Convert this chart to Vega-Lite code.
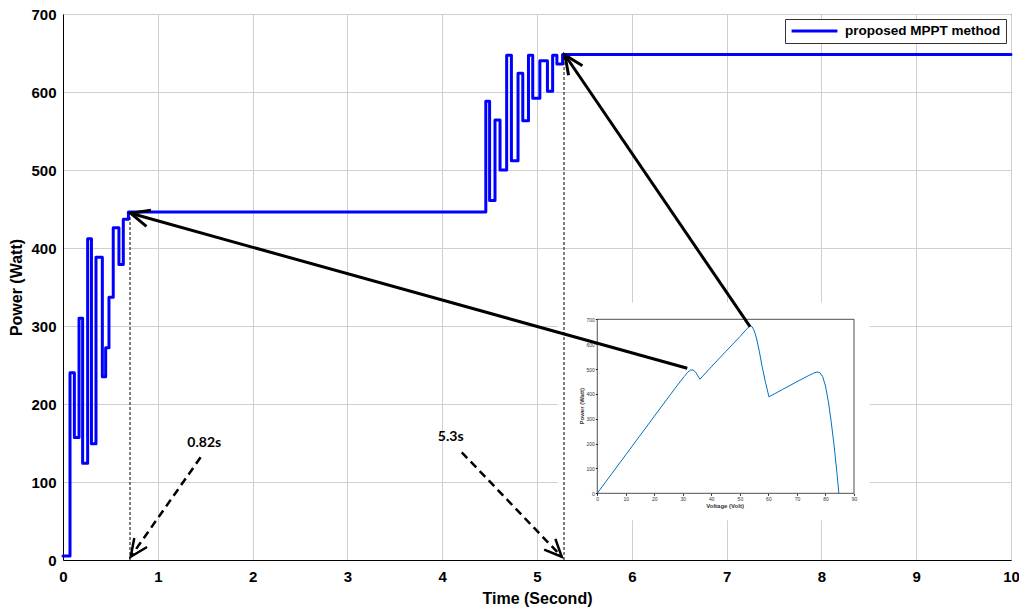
{
  "$schema": "https://vega.github.io/schema/vega-lite/v6.json",
  "width": 948,
  "height": 546,
  "autosize": {"type": "none"},
  "padding": {"left": 63, "top": 14, "right": 8, "bottom": 55},
  "background": "white",
  "config": {"view": {"stroke": "black", "strokeWidth": 1}, "font": "Liberation Sans"},
  "resolve": {"scale": {"x": "independent", "y": "independent", "color": "independent"}},
  "layer": [
    {
      "layer": [
        {
          "data": {"values": [{"t0": 5.22, "t1": 8.51, "p0": 51, "p1": 330}]},
          "mark": {"type": "rect", "fill": "white", "stroke": null},
          "encoding": {
            "x": {"field": "t0", "type": "quantitative", "scale": {"domain": [0, 10], "nice": false, "zero": false},
              "axis": {"orient": "bottom", "values": [0,1,2,3,4,5,6,7,8,9,10], "format": "d", "grid": true, "gridColor": "#cfcfcf", "gridWidth": 1, "domainColor": "black", "ticks": false, "labelFontSize": 15, "labelFontWeight": "bold", "labelColor": "black", "labelPadding": 9, "labelFlush": false, "title": "Time (Second)", "titleFontSize": 16, "titleFontWeight": "bold", "titleColor": "black", "titlePadding": 6}},
            "x2": {"field": "t1"},
            "y": {"field": "p0", "type": "quantitative", "scale": {"domain": [0, 700], "nice": false, "zero": false},
              "axis": {"orient": "left", "values": [0,100,200,300,400,500,600,700], "format": "d", "grid": true, "gridColor": "#cfcfcf", "gridWidth": 1, "domainColor": "black", "ticks": false, "labelFontSize": 15, "labelFontWeight": "bold", "labelColor": "black", "labelPadding": 7, "title": "Power (Watt)", "titleFontSize": 16, "titleFontWeight": "bold", "titleColor": "black", "titlePadding": 6}},
            "y2": {"field": "p1"}
          }
        },
        {
          "data": {"values": [
            {"t": 0, "P": 5, "series": "proposed MPPT method"},
            {"t": 0.074, "P": 240, "series": "proposed MPPT method"},
            {"t": 0.12, "P": 157, "series": "proposed MPPT method"},
            {"t": 0.169, "P": 310, "series": "proposed MPPT method"},
            {"t": 0.207, "P": 124, "series": "proposed MPPT method"},
            {"t": 0.26, "P": 412, "series": "proposed MPPT method"},
            {"t": 0.30, "P": 149, "series": "proposed MPPT method"},
            {"t": 0.348, "P": 388, "series": "proposed MPPT method"},
            {"t": 0.415, "P": 235, "series": "proposed MPPT method"},
            {"t": 0.45, "P": 272, "series": "proposed MPPT method"},
            {"t": 0.485, "P": 337, "series": "proposed MPPT method"},
            {"t": 0.53, "P": 426, "series": "proposed MPPT method"},
            {"t": 0.59, "P": 379, "series": "proposed MPPT method"},
            {"t": 0.636, "P": 437, "series": "proposed MPPT method"},
            {"t": 0.69, "P": 446, "series": "proposed MPPT method"},
            {"t": 4.46, "P": 588, "series": "proposed MPPT method"},
            {"t": 4.50, "P": 461, "series": "proposed MPPT method"},
            {"t": 4.557, "P": 564, "series": "proposed MPPT method"},
            {"t": 4.61, "P": 500, "series": "proposed MPPT method"},
            {"t": 4.68, "P": 647, "series": "proposed MPPT method"},
            {"t": 4.73, "P": 512, "series": "proposed MPPT method"},
            {"t": 4.80, "P": 624, "series": "proposed MPPT method"},
            {"t": 4.85, "P": 563, "series": "proposed MPPT method"},
            {"t": 4.91, "P": 647, "series": "proposed MPPT method"},
            {"t": 4.955, "P": 592, "series": "proposed MPPT method"},
            {"t": 5.03, "P": 640, "series": "proposed MPPT method"},
            {"t": 5.11, "P": 601, "series": "proposed MPPT method"},
            {"t": 5.165, "P": 647, "series": "proposed MPPT method"},
            {"t": 5.21, "P": 636, "series": "proposed MPPT method"},
            {"t": 5.27, "P": 648, "series": "proposed MPPT method"},
            {"t": 10, "P": 648, "series": "proposed MPPT method"}
          ]},
          "mark": {"type": "line", "interpolate": "step-after", "strokeWidth": 3, "strokeJoin": "round", "strokeCap": "round"},
          "encoding": {
            "x": {"field": "t", "type": "quantitative"},
            "y": {"field": "P", "type": "quantitative"},
            "color": {"field": "series", "type": "nominal", "scale": {"range": ["#0000ff"]},
              "legend": {"orient": "top-right", "offset": 5, "title": null, "symbolType": "stroke", "symbolSize": 2100, "symbolStrokeWidth": 3, "clipHeight": 14, "labelFontSize": 13.5, "labelFontWeight": "bold", "labelFont": "Liberation Sans", "labelColor": "black", "fillColor": "white", "strokeColor": "#333333", "padding": 5, "labelOffset": 6}}
          }
        }
      ]
    },
    {
      "layer": [
        {
          "data": {"values": [{"v0": 0, "v1": 90, "q0": 0, "q1": 700}]},
          "mark": {"type": "rect", "fill": "white", "stroke": "#222222", "strokeWidth": 0.8},
          "encoding": {
            "x": {"field": "v0", "type": "quantitative", "scale": {"domain": [-187.3, 145.05], "nice": false, "zero": false},
              "axis": {"orient": "bottom", "offset": -66.7, "zindex": 1, "values": [0,10,20,30,40,50,60,70,80,90], "grid": false, "domain": false, "ticks": true, "tickSize": 2, "tickColor": "#222222", "labelFontSize": 5, "labelColor": "#333333", "labelPadding": 1, "labelFlush": false, "title": null}},
            "x2": {"field": "v1"},
            "y": {"field": "q0", "type": "quantitative", "scale": {"domain": [-268.3, 1928.2], "nice": false, "zero": false},
              "axis": {"orient": "left", "offset": -534.3, "zindex": 1, "values": [0,100,200,300,400,500,600,700], "grid": false, "domain": false, "ticks": true, "tickSize": 2, "tickColor": "#222222", "labelFontSize": 5, "labelColor": "#333333", "labelPadding": 1, "title": null}},
            "y2": {"field": "q1"}
          }
        },
        {
          "data": {"values": [
            {"V": 0, "P": 0}, {"V": 10, "P": 155}, {"V": 20, "P": 310}, {"V": 27, "P": 418},
            {"V": 29, "P": 448}, {"V": 30.5, "P": 470}, {"V": 31.7, "P": 487}, {"V": 32.7, "P": 496},
            {"V": 33.6, "P": 496}, {"V": 34.5, "P": 487}, {"V": 35.3, "P": 472}, {"V": 36, "P": 459},
            {"V": 40, "P": 509}, {"V": 45, "P": 570}, {"V": 50, "P": 630}, {"V": 52, "P": 656},
            {"V": 52.9, "P": 667}, {"V": 53.6, "P": 672}, {"V": 54.3, "P": 670}, {"V": 55, "P": 655},
            {"V": 55.8, "P": 625}, {"V": 56.8, "P": 572}, {"V": 57.8, "P": 510}, {"V": 59, "P": 445},
            {"V": 60.2, "P": 388}, {"V": 65, "P": 418}, {"V": 70, "P": 449}, {"V": 74, "P": 473},
            {"V": 75.8, "P": 483}, {"V": 77, "P": 488}, {"V": 78, "P": 486}, {"V": 79, "P": 470},
            {"V": 80, "P": 432}, {"V": 81, "P": 370}, {"V": 82, "P": 290}, {"V": 83, "P": 195},
            {"V": 84, "P": 85}, {"V": 84.7, "P": 0}
          ]},
          "mark": {"type": "line", "color": "#0072BD", "strokeWidth": 1},
          "encoding": {
            "x": {"field": "V", "type": "quantitative"},
            "y": {"field": "P", "type": "quantitative"}
          }
        },
        {
          "data": {"values": [{"V": 44.8, "P": -50, "label": "Voltage (Volt)"}]},
          "mark": {"type": "text", "fontSize": 6, "fontWeight": "bold", "color": "#333333", "font": "Liberation Sans"},
          "encoding": {
            "x": {"field": "V", "type": "quantitative"},
            "y": {"field": "P", "type": "quantitative"},
            "text": {"field": "label"}
          }
        },
        {
          "data": {"values": [{"V": -5.5, "P": 350, "label": "Power (Watt)"}]},
          "mark": {"type": "text", "fontSize": 6, "fontWeight": "bold", "color": "#333333", "angle": 270, "font": "Liberation Sans"},
          "encoding": {
            "x": {"field": "V", "type": "quantitative"},
            "y": {"field": "P", "type": "quantitative"},
            "text": {"field": "label"}
          }
        }
      ]
    },
    {
      "layer": [
        {
          "data": {"values": [{"t": 0.707, "p0": 0, "p1": 446}, {"t": 5.285, "p0": 0, "p1": 648}]},
          "mark": {"type": "rule", "color": "black", "strokeWidth": 1, "strokeDash": [3, 2]},
          "encoding": {
            "x": {"field": "t", "type": "quantitative", "scale": {"domain": [0, 10], "nice": false, "zero": false}, "axis": null},
            "y": {"field": "p0", "type": "quantitative", "scale": {"domain": [0, 700], "nice": false, "zero": false}, "axis": null},
            "y2": {"field": "p1"}
          }
        },
        {
          "data": {"values": [{"t0": 6.585, "p0": 245.8, "t1": 0.714, "p1": 444.5}, {"t0": 7.247, "p0": 299.1, "t1": 5.295, "p1": 647.4}]},
          "mark": {"type": "rule", "color": "black", "strokeWidth": 3},
          "encoding": {
            "x": {"field": "t0", "type": "quantitative"},
            "y": {"field": "p0", "type": "quantitative"},
            "x2": {"field": "t1"},
            "y2": {"field": "p1"}
          }
        },
        {
          "data": {"values": [{"t0": 1.452, "p0": 131.7, "t1": 0.714, "p1": 4.2}, {"t0": 4.206, "p0": 138.1, "t1": 5.261, "p1": 4.2}]},
          "mark": {"type": "rule", "color": "black", "strokeWidth": 2.5, "strokeDash": [8, 5]},
          "encoding": {
            "x": {"field": "t0", "type": "quantitative"},
            "y": {"field": "p0", "type": "quantitative"},
            "x2": {"field": "t1"},
            "y2": {"field": "p1"}
          }
        },
        {
          "data": {"values": [{"t": 0.714, "P": 444.5}]},
          "mark": {"type": "point", "shape": "M -0.45 1 L 0 0 L 0.45 1", "filled": false, "color": "black", "strokeWidth": 3, "size": 1400, "angle": 285.6, "opacity": 1},
          "encoding": {"x": {"field": "t", "type": "quantitative"}, "y": {"field": "P", "type": "quantitative"}}
        },
        {
          "data": {"values": [{"t": 5.295, "P": 647.4}]},
          "mark": {"type": "point", "shape": "M -0.45 1 L 0 0 L 0.45 1", "filled": false, "color": "black", "strokeWidth": 3, "size": 1400, "angle": 325.75, "opacity": 1},
          "encoding": {"x": {"field": "t", "type": "quantitative"}, "y": {"field": "P", "type": "quantitative"}}
        },
        {
          "data": {"values": [{"t": 0.714, "P": 4.2}]},
          "mark": {"type": "point", "shape": "M -0.45 1 L 0 0 L 0.45 1", "filled": false, "color": "black", "strokeWidth": 2.5, "size": 1200, "angle": 215.15, "opacity": 1},
          "encoding": {"x": {"field": "t", "type": "quantitative"}, "y": {"field": "P", "type": "quantitative"}}
        },
        {
          "data": {"values": [{"t": 5.261, "P": 4.2}]},
          "mark": {"type": "point", "shape": "M -0.45 1 L 0 0 L 0.45 1", "filled": false, "color": "black", "strokeWidth": 2.5, "size": 1200, "angle": 136.24, "opacity": 1},
          "encoding": {"x": {"field": "t", "type": "quantitative"}, "y": {"field": "P", "type": "quantitative"}}
        },
        {
          "data": {"values": [{"t": 1.49, "P": 150, "label": "0.82s"}, {"t": 4.09, "P": 158, "label": "5.3s"}]},
          "mark": {"type": "text", "font": "Lato", "fontSize": 14, "fontWeight": "bold", "color": "black"},
          "encoding": {"x": {"field": "t", "type": "quantitative"}, "y": {"field": "P", "type": "quantitative"}, "text": {"field": "label"}}
        }
      ]
    }
  ]
}
